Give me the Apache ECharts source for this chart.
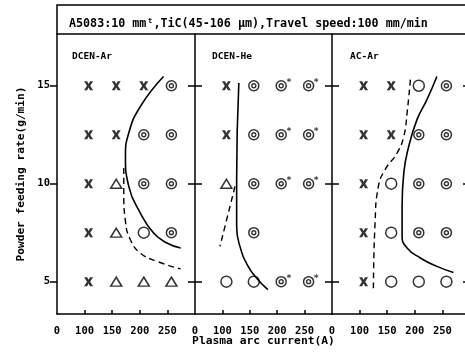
<!DOCTYPE html>
<html><head><meta charset="utf-8">
<script src="https://cdn.jsdelivr.net/npm/echarts@6/dist/echarts.min.js"></script>
<style>html,body{margin:0;padding:0;background:#fff}#c{width:465px;height:354px}</style>
</head><body><div id="c"></div>
<script>
// ---- data ----
const panelNames = ['DCEN-Ar', 'DCEN-He', 'AC-Ar'];
const xTickValues = [50, 100, 150, 200, 250];      // 50 is the broken-axis "0"
const xTickLabels = ['0', '100', '150', '200', '250'];
const yTickValues = [5, 10, 15];
const titleText = 'A5083:10 mm\u1D57,TiC(45-106 \u03BCm),Travel speed:100 mm/min';
const xAxisTitle = 'Plasma arc current(A)';
const yAxisTitle = 'Powder feeding rate(g/min)';

// DCEN-Ar
const arCross = [[100,15],[150,15],[200,15],[100,12.5],[150,12.5],[100,10],[100,7.5],[100,5]];
const arTri = [[150,10],[150,7.5],[150,5],[200,5],[250,5]];
const arOpen = [[200,7.5]];
const arDot = [[250,15],[200,12.5],[250,12.5],[200,10],[250,10],[250,7.5]];
const arDotStar = [];
const arSolid = [[243,15.47],[201,13.94],[180,12.59],[174,11.39],[180,9.86],[201,8.5],[225,7.48],[249,6.97],[274,6.72]];
const arDash = [[171,10.8],[171,9.53],[174,8.08],[183,7.14],[201,6.46],[231,6.04],[274,5.65]];

// DCEN-He
const heCross = [[100,15],[100,12.5]];
const heTri = [[100,10]];
const heOpen = [[100,5],[150,5]];
const heDot = [[150,15],[150,12.5],[150,10],[150,7.5]];
const heDotStar = [[200,15],[250,15],[200,12.5],[250,12.5],[200,10],[250,10],[200,5],[250,5]];
const heSolid = [[130,15.14],[126,10.2],[126,7.82],[132,6.8],[147,5.78],[165,5.1],[183,4.59]];
const heDash = [[123,9.86],[95.5,6.8]];

// AC-Ar
const acCross = [[100,15],[150,15],[100,12.5],[150,12.5],[100,10],[100,7.5],[100,5]];
const acTri = [];
const acOpen = [[200,15],[150,10],[150,7.5],[150,5],[200,5],[250,5]];
const acDot = [[250,15],[200,12.5],[250,12.5],[200,10],[250,10],[200,7.5],[250,7.5]];
const acDotStar = [];
const acSolid = [[240,15.47],[222,14.29],[204,13.27],[189,11.9],[180,10.54],[177,8.84],[177,7.31],[186,6.72],[210,6.21],[240,5.78],[270,5.47]];
const acDash = [[192,15.31],[186,13.61],[180,12.41],[168,11.57],[146,10.71],[134,9.86],[128,7.99],[125,4.59]];

const panels = [
  {cross: arCross, tri: arTri, open: arOpen, dot: arDot, dotStar: arDotStar, solid: arSolid, dash: arDash},
  {cross: heCross, tri: heTri, open: heOpen, dot: heDot, dotStar: heDotStar, solid: heSolid, dash: heDash},
  {cross: acCross, tri: acTri, open: acOpen, dot: acDot, dotStar: acDotStar, solid: acSolid, dash: acDash}
];

// ---- layout / style ----
const MONO = 'DejaVu Sans Mono';
const gridLeft = [57, 195, 332];
const gridWidth = [138, 137, 138];
const crossPath = 'path://M0,0 L3.4,0 L5,3.0 L6.6,0 L10,0 L6.8,5 L10,10 L6.6,10 L5,7.0 L3.4,10 L0,10 L3.2,5 Z';
const OFF = [4, 0];

const grids = [], xAxes = [], yAxes = [], series = [];
for (let i = 0; i < 3; i++) {
  grids.push({left: gridLeft[i], top: 34, width: gridWidth[i], height: 280, containLabel: false, outerBoundsMode: 'none'});
  xAxes.push({
    type: 'value', gridIndex: i, min: 50, max: 300,
    axisLine: {show: true, onZero: false, lineStyle: {color: '#000', width: 1.5}},
    axisTick: {show: true, inside: true, length: 4, customValues: [100,150,200,250], lineStyle: {color: '#000', width: 1.5}},
    axisLabel: {customValues: xTickValues, formatter: v => xTickLabels[xTickValues.indexOf(v)] || '',
      color: '#000', fontFamily: MONO, fontSize: 10.5, fontWeight: 'bold', margin: 12},
    splitLine: {show: false},
    name: i === 1 ? xAxisTitle : '', nameLocation: 'middle', nameGap: 22, nameMoveOverlap: false,
    nameTextStyle: {color: '#000', fontFamily: MONO, fontSize: 11.3, fontWeight: 'bold'}
  });
}
for (let i = 0; i < 3; i++) {
  yAxes.push({
    type: 'value', gridIndex: i, min: 3.35, max: 17.64, position: 'left',
    axisLine: {show: true, onZero: false, lineStyle: {color: '#000', width: 1.5}},
    axisTick: {show: true, inside: false, length: 7, customValues: yTickValues, lineStyle: {color: '#000', width: 1.5}},
    axisLabel: {show: i === 0, customValues: yTickValues, color: '#000', fontFamily: MONO, fontSize: 10.5, fontWeight: 'bold', margin: 7},
    splitLine: {show: false},
    name: i === 0 ? yAxisTitle : '', nameLocation: 'middle', nameGap: 30, nameRotate: 90, nameMoveOverlap: false,
    nameTextStyle: {color: '#000', fontFamily: MONO, fontSize: 11.2, fontWeight: 'bold'}
  });
}
for (let i = 0; i < 3; i++) {
  yAxes.push({
    type: 'value', gridIndex: i, min: 3.35, max: 17.64, position: 'right',
    axisLine: {show: i === 2, onZero: false, lineStyle: {color: '#000', width: 1.5}},
    axisTick: {show: true, inside: i === 2, length: 7, customValues: yTickValues, lineStyle: {color: '#000', width: 1.5}},
    axisLabel: {show: false},
    splitLine: {show: false}
  });
}

const ringStyle = {color: '#fff', borderColor: '#000', borderWidth: 1.5};
panels.forEach((p, i) => {
  const base = {xAxisIndex: i, yAxisIndex: i, silent: true, animation: false};
  series.push(Object.assign({}, base, {type: 'line', data: p.solid, smooth: 0.5, symbol: 'none', lineStyle: {color: '#000', width: 1.6}}));
  series.push(Object.assign({}, base, {type: 'line', data: p.dash, smooth: 0.5, symbol: 'none', lineStyle: {color: '#000', width: 1.4, type: [6, 4]}}));
  series.push(Object.assign({}, base, {type: 'scatter', data: p.cross, symbol: crossPath, symbolSize: [9, 9], symbolOffset: OFF, itemStyle: {color: '#000'}}));
  series.push(Object.assign({}, base, {type: 'scatter', data: p.tri, symbol: 'triangle', symbolSize: [11, 9], symbolOffset: OFF, itemStyle: ringStyle}));
  series.push(Object.assign({}, base, {type: 'scatter', data: p.open, symbol: 'circle', symbolSize: 11, symbolOffset: OFF, itemStyle: ringStyle}));
  const dots = p.dot.concat(p.dotStar);
  series.push(Object.assign({}, base, {type: 'scatter', data: dots, symbol: 'circle', symbolSize: 10, symbolOffset: OFF, itemStyle: ringStyle, z: 3}));
  series.push(Object.assign({}, base, {type: 'scatter', data: dots, symbol: 'circle', symbolSize: 4, symbolOffset: OFF, itemStyle: {color: '#fff', borderColor: '#000', borderWidth: 1.4}, z: 4}));
  series.push(Object.assign({}, base, {type: 'scatter', data: p.dotStar, symbol: 'circle', symbolSize: 10, symbolOffset: OFF, itemStyle: {color: 'transparent'}, z: 5,
    label: {show: true, formatter: '*', position: [10, -3], color: '#000', fontSize: 9, fontWeight: 'bold', fontFamily: MONO}}));
});

const titles = [{text: titleText, left: 64, top: 13, textStyle: {color: '#000', fontFamily: MONO, fontSize: 11.7, fontWeight: 'bold'}}];
const panelLabelLeft = [67, 207, 345];
panelNames.forEach((n, i) => titles.push({text: n, left: panelLabelLeft[i], top: 47, textStyle: {color: '#000', fontFamily: MONO, fontSize: 9.5, fontWeight: 'bold'}}));

const chart = echarts.init(document.getElementById('c'), null, {renderer: 'canvas'});
chart.setOption({
  backgroundColor: '#fff',
  animation: false,
  title: titles,
  grid: grids, xAxis: xAxes, yAxis: yAxes, series: series,
  graphic: [{type: 'rect', shape: {x: 57, y: 5, width: 420, height: 29}, style: {fill: 'none', stroke: '#000', lineWidth: 1.5}, silent: true}]
});
</script></body></html>
